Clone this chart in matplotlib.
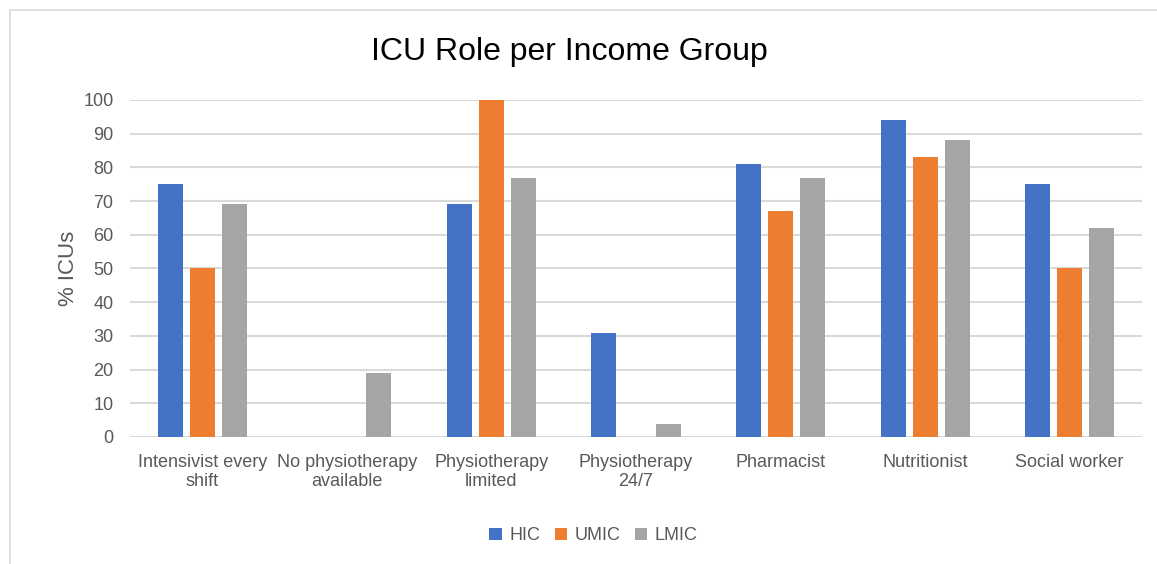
import numpy as np
import matplotlib.pyplot as plt
from matplotlib.patches import Rectangle

# data
roles = ["Intensivist every\nshift", "No physiotherapy\navailable", "Physiotherapy\nlimited",
         "Physiotherapy\n24/7", "Pharmacist", "Nutritionist", "Social worker"]
hic = [75, 0, 69, 31, 81, 94, 75]
umic = [50, 0, 100, 0, 67, 83, 50]
lmic = [69, 19, 77, 4, 77, 88, 62]

groups = ["HIC", "UMIC", "LMIC"]
colors = ["#4472C4", "#ED7D31", "#A5A5A5"]

plt.rcParams["font.family"] = ["Liberation Sans", "DejaVu Sans"]

fig = plt.figure(figsize=(11.57, 5.64), dpi=100)
ax = fig.add_axes([0.1124, 0.2252, 0.8746, 0.5975])

# outer chart border (bottom and right run off the image)
fig.patches.append(Rectangle((10 / 1157, -20 / 564), 1170 / 1157, 574 / 564, transform=fig.transFigure,
                             fill=False, edgecolor="#D9D9D9", linewidth=1.2))

r = np.arange(len(roles))
barWidth = 0.173
offset = 0.222
for j, vals in enumerate([hic, umic, lmic]):
    ax.bar(r + (j - 1) * offset, vals, width=barWidth, color=colors[j], label=groups[j], zorder=3)

ax.set_xlim(-0.5, len(roles) - 0.5)
ax.set_ylim(0, 100)
ax.set_yticks(np.arange(0, 101, 10))
ax.grid(axis="y", color="#D9D9D9", linewidth=1.5, zorder=0)
ax.set_axisbelow(True)
for s in ["top", "right", "left", "bottom"]:
    ax.spines[s].set_visible(False)
ax.axhline(0, color="#D9D9D9", linewidth=1.5, zorder=1)

ax.set_xticks(r)
ax.set_xticklabels(roles, fontsize=13, color="#595959")
ax.tick_params(axis="both", length=0, labelsize=13, colors="#595959")
ax.tick_params(axis="x", pad=12)
ax.tick_params(axis="y", pad=12)
for t in ax.get_xticklabels():
    t.set_color("#595959")
    t.set_linespacing(1.2)

ax.set_ylabel("% ICUs", fontsize=16, color="#595959", labelpad=3)
fig.text(0.492, 0.908, "ICU Role per Income Group", ha="center", va="center", fontsize=23)

fig.legend(loc="center", bbox_to_anchor=(0.513, 0.05), ncol=3, frameon=False, fontsize=13,
           handlelength=0.7, handleheight=0.7, handletextpad=0.4, columnspacing=0.8,
           labelcolor="#595959")

plt.savefig("out.png", dpi=100)
